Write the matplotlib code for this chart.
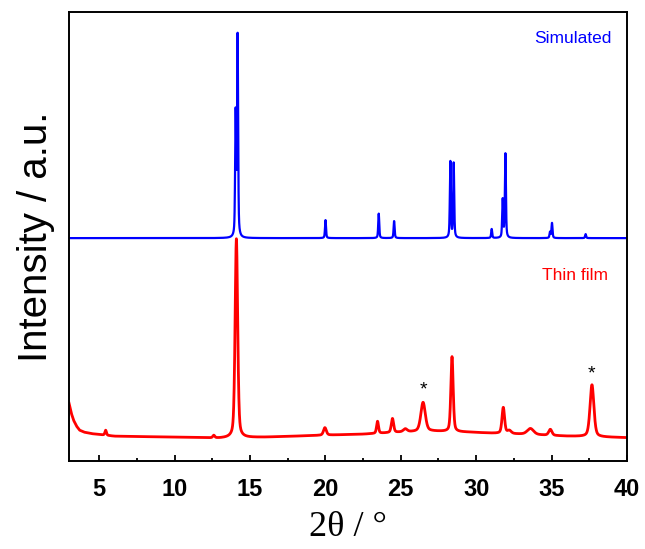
import numpy as np
import matplotlib
matplotlib.use("Agg")
import matplotlib.pyplot as plt
from matplotlib.ticker import MultipleLocator

# ---- data ----
# Simulated pattern: peak positions (2theta), heights (a.u.), FWHM
sim_pos = [14.05, 14.18, 20.01, 23.54, 24.56, 28.29, 28.51, 31.03, 31.76, 31.94, 34.90, 35.03, 37.26]
sim_hgt = [122, 200, 18, 24.5, 17, 76, 74.5, 9, 38, 84, 6, 15, 4]
sim_fwhm = 0.08
sim_offset = 223

# Thin film pattern: peak positions, heights, FWHM
film_pos = [5.43, 12.60, 14.10, 19.97, 23.46, 24.45, 25.30, 26.48, 28.40, 31.80, 32.20, 33.60, 34.92, 37.68]
film_hgt = [5, 2.5, 199, 7.5, 12, 14, 3, 29, 75, 26, 3, 6, 6, 52]
film_fwhm = [0.12, 0.15, 0.20, 0.22, 0.15, 0.18, 0.3, 0.35, 0.18, 0.20, 0.3, 0.5, 0.25, 0.30]

# Thin film background read at a few positions (2theta, a.u.)
bg_x = [3.0, 3.15, 3.3, 3.5, 3.7, 4.0, 4.5, 6.0, 10.0, 13.0, 16.0, 20.0, 22.5, 25.0, 27.0, 29.5, 31.0, 33.0, 36.0, 40.0]
bg_y = [58, 48, 41, 35, 31, 29, 27.5, 25, 24, 23, 24, 26, 27, 29, 30, 29, 28, 27, 25, 23.5]

# markers for impurity peaks
star_x = [26.48, 37.68]
star_y = [71, 87]

xticks = [5, 10, 15, 20, 25, 30, 35, 40]


def profile(x, pos, hgt, fwhm, eta):
    fwhm = np.broadcast_to(np.asarray(fwhm, float), (len(pos),))
    y = np.zeros_like(x)
    for p, h, w in zip(pos, hgt, fwhm):
        g = w / 2.0
        lor = 1.0 / (1.0 + ((x - p) / g) ** 2)
        gau = np.exp(-np.log(2) * ((x - p) / g) ** 2)
        y += h * (eta * lor + (1 - eta) * gau)
    return y


x = np.arange(3.0, 40.0001, 0.005)
sim_y = sim_offset + profile(x, sim_pos, sim_hgt, sim_fwhm, 0.5)
film_y = np.interp(x, bg_x, bg_y) + profile(x, film_pos, film_hgt, film_fwhm, 0.4)

fig = plt.figure(figsize=(6.45, 5.49), dpi=100)
ax = fig.add_axes([0.107, 0.160, 0.865, 0.818])

ax.plot(x, sim_y, color="#0000ff", lw=1.6)
ax.plot(x, film_y, color="#ff0000", lw=2.0)

for sx, sy in zip(star_x, star_y):
    ax.text(sx, sy, "*", ha="center", va="center", fontsize=14,
            family="Liberation Sans", color="black")

ax.text(33.88, 423, "Simulated", color="#0000ff", fontsize=12.5,
        family="Liberation Sans", va="center", ha="left")
ax.text(34.4, 186, "Thin film", color="#ff0000", fontsize=12.5,
        family="Liberation Sans", va="center", ha="left")

ax.set_xlim(3, 40)
ax.set_ylim(0, 449)
ax.set_yticks([])
ax.set_xticks(xticks)
ax.xaxis.set_minor_locator(MultipleLocator(2.5))
ax.tick_params(axis="x", which="major", direction="in", length=4.5, width=1.3,
               labelsize=17, pad=12)
ax.tick_params(axis="x", which="minor", direction="in", length=2.5, width=1.3)
for lab in ax.get_xticklabels():
    lab.set_fontweight("bold")
    lab.set_family("Liberation Sans")
for s in ax.spines.values():
    s.set_linewidth(1.4)

ax.set_xlabel("2θ / °", family="Liberation Serif", fontsize=26, labelpad=7)
ax.set_ylabel("Intensity / a.u.", family="Liberation Sans", fontsize=29, labelpad=10)

fig.savefig("out.png", dpi=100)
